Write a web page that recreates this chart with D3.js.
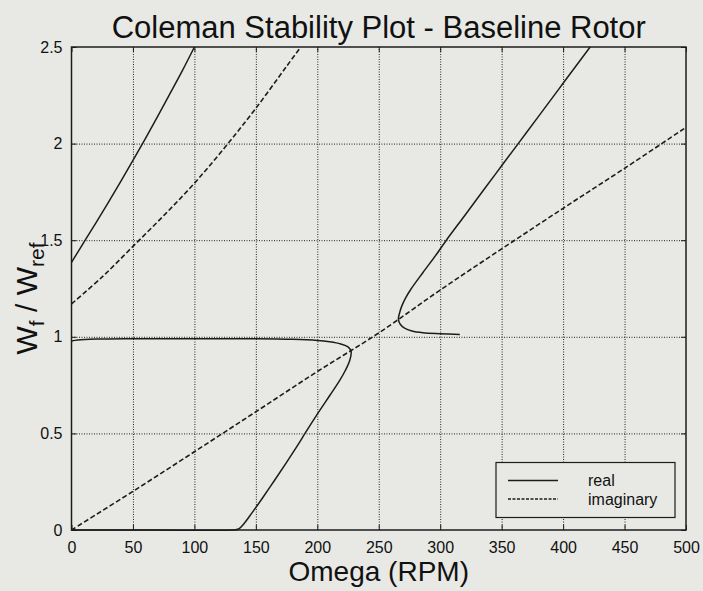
<!DOCTYPE html>
<html>
<head>
<meta charset="utf-8">
<script src="https://cdn.jsdelivr.net/npm/d3@7"></script>
<style>
  html, body { margin: 0; padding: 0; background: #e8e9e5; }
  svg { display: block; }
  text { font-family: "Liberation Sans", Arial, Helvetica, sans-serif; fill: #111; }
</style>
</head>
<body>
<svg id="chart" width="703" height="591"></svg>
<script>
// ---- data ----
const titleText = "Coleman Stability Plot - Baseline Rotor";
const xLabelText = "Omega (RPM)";
const xTicks = [0, 50, 100, 150, 200, 250, 300, 350, 400, 450, 500];
const yTicks = [0, 0.5, 1, 1.5, 2, 2.5];
const yTickLabels = ["0", "0.5", "1", "1.5", "2", "2.5"];
const legendLabels = ["real", "imaginary"];

// real (solid) branches: [Omega, Wf/Wref]
const realBranchA = [[0,1.385],[10,1.489],[20,1.591],[30,1.696],[40,1.803],[50,1.913],[60,2.025],[70,2.14],[80,2.257],[90,2.375],[100,2.5]];
const realBranchB = [[0,0],[65,0],[130,0],[136,0.005],[140,0.03],[147,0.09],[155,0.162],[165,0.255],[175,0.35],[185,0.448],[190,0.5],[200,0.6],[210,0.695],[218,0.772],[223,0.828],[226.5,0.88],[227.5,0.925],[225,0.948],[219,0.963],[210,0.974],[200,0.981],[180,0.987],[150,0.99],[100,0.99],[50,0.99],[20,0.988],[5,0.983],[0,0.978]];
const realBranchC = [[316,1.012],[300,1.016],[286,1.021],[277,1.03],[271,1.045],[267.5,1.065],[266,1.09],[266.8,1.12],[268.8,1.16],[272,1.203],[276,1.245],[286,1.333],[297,1.427],[305,1.5],[320,1.628],[335,1.757],[350,1.885],[365,2.013],[380,2.141],[400,2.312],[422,2.5]];

// imaginary (dashed) branches
const imagBranchA = [[0,1.17],[25,1.31],[50,1.468],[75,1.627],[100,1.795],[125,1.982],[150,2.183],[175,2.4],[186.5,2.5]];
const imagBranchB = [[0,0],[50,0.2],[100,0.405],[150,0.612],[200,0.82],[250,1.02],[300,1.242],[350,1.455],[400,1.665],[450,1.872],[500,2.084]];

// ---- layout ----
const svg = d3.select("#chart");
const L = 71.5, R = 686, T = 47, B = 530;
const W = R - L, H = B - T;
const ink = "#1c1c1c";

const x = d3.scaleLinear().domain([0, 500]).range([L, R]);
const y = d3.scaleLinear().domain([0, 2.5]).range([B, T]);

// grid
const gridX = svg.append("g").attr("transform", `translate(0,${B})`)
  .call(d3.axisBottom(x).tickValues(xTicks.filter(d => d > 0 && d < 500)).tickSize(-H).tickFormat(""));
const gridY = svg.append("g").attr("transform", `translate(${L},0)`)
  .call(d3.axisLeft(y).tickValues(yTicks.filter(d => d > 0 && d < 2.5)).tickSize(-W).tickFormat(""));
[gridX, gridY].forEach(g => {
  g.select(".domain").remove();
  g.selectAll("line").attr("stroke", "#222").attr("stroke-width", 1).attr("stroke-dasharray", "1,1.5");
});

// curves
const line = d3.line().x(d => x(d[0])).y(d => y(d[1])).curve(d3.curveCatmullRom.alpha(0.5));
const plot = svg.append("g");
[realBranchA, realBranchB, realBranchC].forEach(data => {
  plot.append("path").datum(data).attr("d", line)
    .attr("fill", "none").attr("stroke", ink).attr("stroke-width", 1.5);
});
[imagBranchA, imagBranchB].forEach(data => {
  plot.append("path").datum(data).attr("d", line)
    .attr("fill", "none").attr("stroke", ink).attr("stroke-width", 1.6)
    .attr("stroke-dasharray", "5,2.5");
});

// axes with inward ticks
const tick = 5;
const axB = svg.append("g").attr("transform", `translate(0,${B})`)
  .call(d3.axisBottom(x).tickValues(xTicks).tickSize(-tick).tickPadding(12).tickFormat(d3.format("d")));
const axT = svg.append("g").attr("transform", `translate(0,${T})`)
  .call(d3.axisTop(x).tickValues(xTicks).tickSize(-tick).tickFormat(""));
const axL = svg.append("g").attr("transform", `translate(${L},0)`)
  .call(d3.axisLeft(y).tickValues(yTicks).tickSize(-tick).tickPadding(9).tickFormat((d, i) => yTickLabels[i]));
const axR = svg.append("g").attr("transform", `translate(${R},0)`)
  .call(d3.axisRight(y).tickValues(yTicks).tickSize(-tick).tickFormat(""));
[axB, axT, axL, axR].forEach(g => {
  g.select(".domain").remove();
  g.selectAll("line").attr("stroke", ink).attr("stroke-width", 1);
  g.selectAll("text").attr("font-size", 16).attr("fill", "#111")
    .attr("font-family", "'Liberation Sans', Arial, sans-serif");
});

// frame
svg.append("rect").attr("x", L).attr("y", T).attr("width", W).attr("height", H)
  .attr("fill", "none").attr("stroke", ink).attr("stroke-width", 1.5);

// title
svg.append("text").attr("x", (L + R) / 2).attr("y", 38).attr("text-anchor", "middle")
  .attr("font-size", 31).text(titleText);

// x label
svg.append("text").attr("x", (L + R) / 2).attr("y", 581).attr("text-anchor", "middle")
  .attr("font-size", 28).text(xLabelText);

// y label with subscripts
const yl = svg.append("text").attr("transform", `translate(37,${(T + B) / 2 + 10}) rotate(-90)`)
  .attr("text-anchor", "middle").attr("font-size", 30);
yl.append("tspan").text("W");
yl.append("tspan").attr("font-size", 21).attr("dy", 7).text("f");
yl.append("tspan").attr("dy", -7).text(" / W");
yl.append("tspan").attr("font-size", 21).attr("dy", 7).text("ref");

// legend
const lg = svg.append("g");
lg.append("rect").attr("x", 496).attr("y", 462.5).attr("width", 179).attr("height", 55)
  .attr("fill", "#e8e9e5").attr("stroke", ink).attr("stroke-width", 1.2);
legendLabels.forEach((lab, i) => {
  const ly = 480.5 + i * 18.5;
  lg.append("line").attr("x1", 508).attr("x2", 558).attr("y1", ly).attr("y2", ly)
    .attr("stroke", ink).attr("stroke-width", 1.3)
    .attr("stroke-dasharray", i === 0 ? null : "3,1.5");
  lg.append("text").attr("x", 588).attr("y", ly + 5.5).attr("font-size", 16).text(lab);
});
</script>
</body>
</html>
